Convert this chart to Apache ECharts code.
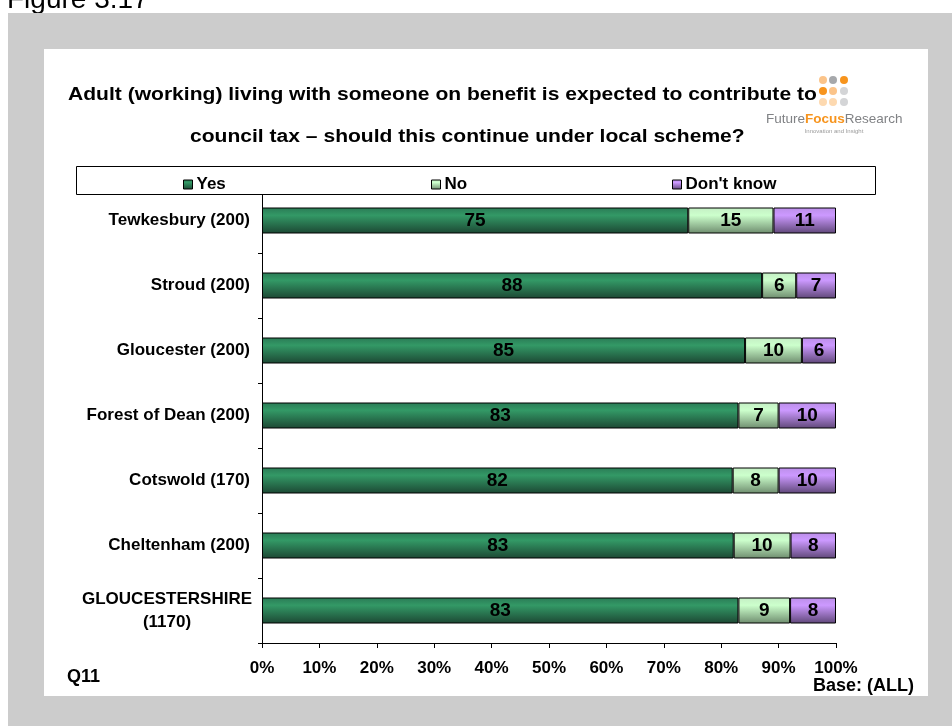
<!DOCTYPE html>
<html><head><meta charset="utf-8">
<script src="https://cdn.jsdelivr.net/npm/echarts@6/dist/echarts.min.js"></script>
<style>html,body{margin:0;padding:0;background:#fff}#c{width:952px;height:726px}</style>
</head><body><div id="c"></div>
<script>
const categories = ['Tewkesbury (200)', 'Stroud (200)', 'Gloucester (200)', 'Forest of Dean (200)', 'Cotswold (170)', 'Cheltenham (200)', 'GLOUCESTERSHIRE\n(1170)'];
const yesValues = [75, 88, 85, 83, 82, 83, 83];
const noValues = [15, 6, 10, 7, 8, 10, 9];
const dontKnowValues = [11, 7, 6, 10, 10, 8, 8];
const seriesNames = ['Yes', 'No', "Don't know"];
const xTickLabels = ['0%', '10%', '20%', '30%', '40%', '50%', '60%', '70%', '80%', '90%', '100%'];
const titleLine1 = 'Adult (working) living with someone on benefit is expected to contribute to';
const titleLine2 = 'council tax \u2013 should this continue under local scheme?';

const FF = '"Liberation Sans", Arial, sans-serif';
const totals = yesValues.map((v, i) => v + noValues[i] + dontKnowValues[i]);
const share = arr => arr.map((v, i) => v / totals[i] * 100);

const G = echarts.graphic.LinearGradient;
const gradYes = new G(0, 0, 0, 1, [{offset: 0, color: '#2a7a55'}, {offset: 0.3, color: '#339966'}, {offset: 1, color: '#1c4733'}]);
const gradNo = new G(0, 0, 0, 1, [{offset: 0, color: '#c4eec4'}, {offset: 0.3, color: '#ccffcc'}, {offset: 1, color: '#6e8c6e'}]);
const gradDk = new G(0, 0, 0, 1, [{offset: 0, color: '#bb8ee8'}, {offset: 0.3, color: '#cc99ff'}, {offset: 1, color: '#5f4778'}]);

function mkSeries(name, raw, grad) {
  return {
    name: name, type: 'bar', stack: 'total', barWidth: 26,
    data: share(raw),
    itemStyle: {color: grad, borderColor: '#000', borderWidth: 1},
    label: {show: true, position: 'inside', color: '#000', fontFamily: FF, fontWeight: 'bold', fontSize: 19,
      formatter: p => String(raw[p.dataIndex])},
    emphasis: {disabled: true}
  };
}

function mkLegend(name, left) {
  return {
    data: [name], left: left, top: 171, icon: 'rect', itemWidth: 9, itemHeight: 9,
    itemStyle: {borderColor: '#000', borderWidth: 1},
    textStyle: {fontFamily: FF, fontWeight: 'bold', fontSize: 17, color: '#000', padding: [0, 0, 0, -1]},
    selectedMode: false, z: 10
  };
}

const chart = echarts.init(document.getElementById('c'));
chart.setOption({
  backgroundColor: '#ffffff',
  animation: false,
  grid: {left: 262, top: 188, width: 574, height: 455, containLabel: false},
  legend: [mkLegend(seriesNames[0], 178), mkLegend(seriesNames[1], 426), mkLegend(seriesNames[2], 667)],
  xAxis: {
    type: 'value', min: 0, max: 100, interval: 10,
    axisLine: {show: true, lineStyle: {color: '#000', width: 1}},
    axisTick: {show: true, length: 5, lineStyle: {color: '#000'}},
    splitLine: {show: false},
    axisLabel: {margin: 17, color: '#000', fontFamily: FF, fontWeight: 'bold', fontSize: 17,
      formatter: v => xTickLabels[Math.round(v / 10)]}
  },
  yAxis: {
    type: 'category', inverse: true, data: categories,
    axisLine: {show: true, lineStyle: {color: '#000', width: 1}},
    axisTick: {show: true, length: 4, lineStyle: {color: '#000'}},
    axisLabel: {margin: 12, color: '#000', fontFamily: FF, fontWeight: 'bold', fontSize: 17,
      formatter: v => v.indexOf('\n') >= 0 ? v.split('\n').map(s => '{c|' + s + '}').join('\n') : v,
      rich: {c: {width: 166, align: 'center', fontFamily: FF, fontWeight: 'bold', fontSize: 17, color: '#000', lineHeight: 23}}}
  },
  series: [mkSeries(seriesNames[0], yesValues, gradYes), mkSeries(seriesNames[1], noValues, gradNo), mkSeries(seriesNames[2], dontKnowValues, gradDk)],
  graphic: [
    {type: 'text', left: 7, top: -14, z: -20, style: {text: 'Figure 3.17', font: '28px ' + FF, fill: '#000'}},
    {type: 'rect', shape: {x: 8, y: 13, width: 944, height: 713}, style: {fill: '#cccccc'}, z: -10},
    {type: 'rect', shape: {x: 44, y: 49, width: 884, height: 647}, style: {fill: '#ffffff'}, z: -9},
    {type: 'text', x: 68, y: 95, z: 5, scaleX: 1.17, style: {text: titleLine1, font: 'bold 18px ' + FF, fill: '#000', textVerticalAlign: 'middle'}},
    {type: 'text', x: 190, y: 137, z: 5, scaleX: 1.17, style: {text: titleLine2, font: 'bold 18px ' + FF, fill: '#000', textVerticalAlign: 'middle'}},
    {type: 'rect', shape: {x: 76.5, y: 166.5, width: 799, height: 28}, style: {fill: '#fff', stroke: '#000', lineWidth: 1}, z: 8},
    {type: 'text', x: 67, y: 677, z: 5, style: {text: 'Q11', font: 'bold 18px ' + FF, fill: '#000', textVerticalAlign: 'middle'}},
    {type: 'text', x: 813, y: 686, z: 5, style: {text: 'Base: (ALL)', font: 'bold 18px ' + FF, fill: '#000', textVerticalAlign: 'middle'}},
    // logo
    {type: 'circle', shape: {cx: 823, cy: 80, r: 4}, style: {fill: '#fbc48a'}, z: 5},
    {type: 'circle', shape: {cx: 833, cy: 80, r: 4}, style: {fill: '#a6a8ab'}, z: 5},
    {type: 'circle', shape: {cx: 844, cy: 80, r: 4}, style: {fill: '#f7941d'}, z: 5},
    {type: 'circle', shape: {cx: 823, cy: 91, r: 4}, style: {fill: '#f7941d'}, z: 5},
    {type: 'circle', shape: {cx: 833, cy: 91, r: 4}, style: {fill: '#fbc48a'}, z: 5},
    {type: 'circle', shape: {cx: 844, cy: 91, r: 4}, style: {fill: '#d4d5d7'}, z: 5},
    {type: 'circle', shape: {cx: 823, cy: 102, r: 4}, style: {fill: '#fdd9b0'}, z: 5},
    {type: 'circle', shape: {cx: 833, cy: 102, r: 4}, style: {fill: '#fdd9b0'}, z: 5},
    {type: 'circle', shape: {cx: 844, cy: 102, r: 4}, style: {fill: '#d4d5d7'}, z: 5},
    {type: 'text', x: 766, y: 119, z: 5, style: {
      text: '{a|Future}{b|Focus}{a|Research}', textVerticalAlign: 'middle',
      rich: {a: {font: '13.5px ' + FF, fill: '#808285'}, b: {font: 'bold 13.5px ' + FF, fill: '#f7941d'}}}},
    {type: 'text', x: 834, y: 131, z: 5, style: {text: 'Innovation and Insight', font: '6px ' + FF, fill: '#9a9a9a', textAlign: 'center', textVerticalAlign: 'middle'}}
  ]
});
</script></body></html>
